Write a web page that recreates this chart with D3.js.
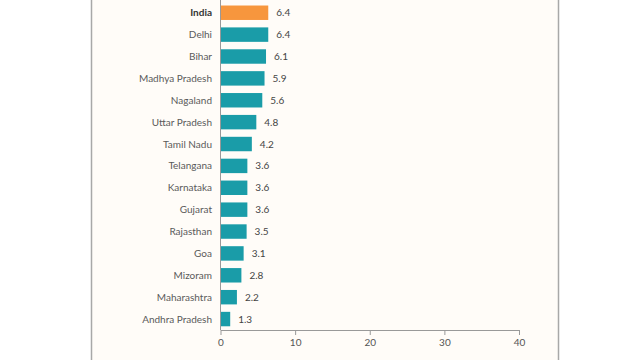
<!DOCTYPE html>
<html>
<head>
<meta charset="utf-8">
<script src="https://cdn.jsdelivr.net/npm/d3@7"></script>
<style>
  html, body { margin: 0; padding: 0; background: #ffffff; }
  svg { display: block; }
  text { font-family: Lato, "Open Sans", sans-serif; }
</style>
</head>
<body>
<svg id="chart" width="640" height="360"></svg>
<script>
const categories = ["India", "Delhi", "Bihar", "Madhya Pradesh", "Nagaland", "Uttar Pradesh",
  "Tamil Nadu", "Telangana", "Karnataka", "Gujarat", "Rajasthan", "Goa", "Mizoram",
  "Maharashtra", "Andhra Pradesh"];
const values = [6.4, 6.4, 6.1, 5.9, 5.6, 4.8, 4.2, 3.6, 3.6, 3.6, 3.5, 3.1, 2.8, 2.2, 1.3];
const xTicks = [0, 10, 20, 30, 40];
const highlight = "India";

const svg = d3.select("#chart");

// panel
svg.append("rect").attr("x", 0).attr("y", 0).attr("width", 640).attr("height", 360).attr("fill", "#ffffff");
svg.append("rect").attr("x", 92).attr("y", 0).attr("width", 466).attr("height", 360).attr("fill", "#fffcf8");
svg.append("line").attr("x1", 91.5).attr("x2", 91.5).attr("y1", 0).attr("y2", 360).attr("stroke", "#a8a8a8").attr("stroke-width", 1.5);
svg.append("line").attr("x1", 558.5).attr("x2", 558.5).attr("y1", 0).attr("y2", 360).attr("stroke", "#a8a8a8").attr("stroke-width", 1.5);

const x = d3.scaleLinear().domain([0, 40]).range([220.5, 519]);
const y = d3.scaleBand().domain(categories).range([1.8, 330]).paddingInner(0.34).paddingOuter(0.17);

const data = categories.map((c, i) => ({ c, v: values[i] }));

// bars
svg.append("g").selectAll("rect").data(data).join("rect")
  .attr("x", x(0))
  .attr("y", d => y(d.c))
  .attr("width", d => x(d.v) - x(0))
  .attr("height", y.bandwidth())
  .attr("fill", d => d.c === highlight ? "#f7963d" : "#1a9ca8");

// value labels
svg.append("g").selectAll("text").data(data).join("text")
  .attr("x", d => x(d.v) + 8)
  .attr("y", d => y(d.c) + y.bandwidth() / 2)
  .attr("dy", "0.35em")
  .attr("font-size", 10)
  .attr("fill", "#444")
  .text(d => d.v.toFixed(1));

// category labels
svg.append("g").selectAll("text").data(data).join("text")
  .attr("x", 212)
  .attr("y", d => y(d.c) + y.bandwidth() / 2)
  .attr("dy", "0.35em")
  .attr("text-anchor", "end")
  .attr("font-size", 10)
  .attr("font-weight", d => d.c === highlight ? "bold" : "normal")
  .attr("fill", d => d.c === highlight ? "#333" : "#5a5a5a")
  .text(d => d.c);

// vertical axis line
svg.append("line").attr("x1", x(0)).attr("x2", x(0)).attr("y1", 0).attr("y2", 330)
  .attr("stroke", "#999").attr("stroke-width", 1);

// x axis
const xAxis = d3.axisBottom(x).tickValues(xTicks).tickSize(5).tickSizeOuter(0).tickPadding(4);
const gx = svg.append("g").attr("transform", "translate(0,330)").call(xAxis);
gx.select(".domain").attr("stroke", "#999");
gx.selectAll(".tick line").attr("stroke", "#999");
gx.selectAll(".tick text").attr("fill", "#555").attr("font-size", 10).attr("font-family", "Lato, sans-serif");
</script>
</body>
</html>
